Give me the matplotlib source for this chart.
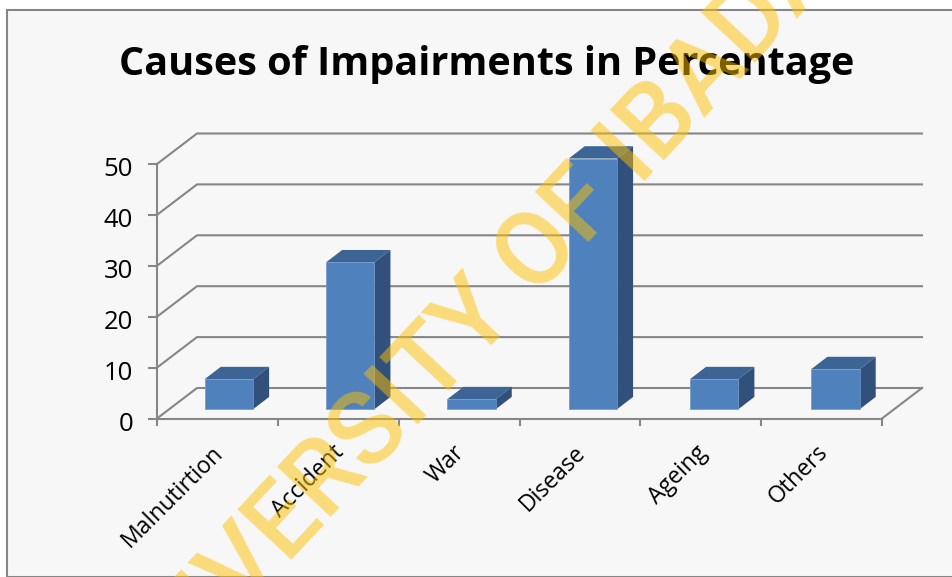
import matplotlib
matplotlib.use("Agg")
import matplotlib.pyplot as plt
from matplotlib.patches import Polygon, Rectangle
from matplotlib.transforms import ScaledTranslation

categories = ['Malnutirtion', 'Accident', 'War', 'Disease', 'Ageing', 'Others']
values = [6, 29.3, 2, 50, 6, 8]
y_ticks = [0, 10, 20, 30, 40, 50]

W, H = 952, 577
GRAY = '#868686'

fig = plt.figure(figsize=(W / 100, H / 100), dpi=100, facecolor='white')

# chart area background and frame
fig.patches.append(Rectangle((7 / W, 0), 1, 1 - 9.5 / H, transform=fig.transFigure,
                             facecolor='#f7f7f7', edgecolor=GRAY, linewidth=1.5, zorder=-1))

ax = fig.add_axes([157 / W, (H - 418.5) / H, 725 / W, 254.5 / H])
ax.patch.set_alpha(0)
ax.set_xlim(0, 6)
ax.set_ylim(0, 50)
for s in ['top', 'right']:
    ax.spines[s].set_visible(False)
for s in ['left', 'bottom']:
    ax.spines[s].set_color(GRAY)
    ax.spines[s].set_linewidth(1.5)

# depth of the back wall, in data units (40 px across, 30.5 px up)
wall_dx = 40 / 725 * 6
wall_dy = 30.5 / 254.5 * 50

for t in y_ticks:
    ax.plot([0, wall_dx, 6 + wall_dx], [t, t + wall_dy, t + wall_dy],
            color=GRAY, lw=1.5, clip_on=False, zorder=1, solid_joinstyle='miter')
ax.plot([6, 6 + wall_dx], [0, wall_dy], color=GRAY, lw=1.5, clip_on=False, zorder=1)

# bars: front face, top and side
bar_w = 0.4
bar_step = 1.004
bar_x = 0.0955
bar_y = 9.3 / 5.09
bar_dx = 16 / 725 * 6
bar_dy = 12.3 / 5.09
scale = 0.985

for i, v in enumerate(values):
    x0 = i * bar_step + 0.5 - bar_w / 2 + bar_x
    x1 = x0 + bar_w
    y0 = bar_y
    y1 = bar_y + v * scale
    ax.add_patch(Polygon([(x0, y1), (x1, y1), (x1 + bar_dx, y1 + bar_dy), (x0 + bar_dx, y1 + bar_dy)],
                         facecolor='#3c6494', edgecolor='none', clip_on=False, zorder=3))
    ax.add_patch(Polygon([(x1, y0), (x1 + bar_dx, y0 + bar_dy), (x1 + bar_dx, y1 + bar_dy), (x1, y1)],
                         facecolor='#32517a', edgecolor='none', clip_on=False, zorder=3))
    ax.add_patch(Polygon([(x0, y0), (x1, y0), (x1, y1), (x0, y1)],
                         facecolor='#4f81bd', edgecolor='#6f97c8', linewidth=0.5, clip_on=False, zorder=4))

ax.set_yticks(y_ticks)
ax.set_yticklabels([str(t) for t in y_ticks], fontfamily='Open Sans', fontsize=18.5, color='black')
ax.tick_params(axis='y', length=6.2, width=1.5, color=GRAY, pad=11)
for lab in ax.get_yticklabels():
    lab.set_transform(lab.get_transform() + ScaledTranslation(0, -2 / 72, fig.dpi_scale_trans))

# ticks between the categories, labels at the centres
ax.set_xticks(range(7))
ax.set_xticklabels([])
ax.tick_params(axis='x', which='major', length=5, width=1.5, color=GRAY)
ax.set_xticks([i + 0.5 for i in range(6)], minor=True)
ax.set_xticklabels(categories, minor=True, rotation=45, ha='right', rotation_mode='anchor',
                   fontfamily='Open Sans', fontsize=16.6, color='black')
ax.tick_params(axis='x', which='minor', length=0, pad=16)
for lab in ax.get_xticklabels(minor=True):
    lab.set_transform(lab.get_transform() + ScaledTranslation(-6 / 100, 0, fig.dpi_scale_trans))

fig.text(486.5 / W, 1 - 64 / H, 'Causes of Impairments in Percentage', fontfamily='Open Sans',
         fontweight='bold', fontsize=28.5, ha='center', va='center', color='black')

# watermark over everything
fig.text(489 / W, 1 - 307 / H, 'UNIVERSITY OF IBADAN', fontfamily='Roboto', fontweight='medium',
         fontsize=74, color='#ffc000', alpha=0.5, rotation=47, rotation_mode='anchor',
         ha='center', va='center', zorder=10)

fig.savefig('out.png', dpi=100)
